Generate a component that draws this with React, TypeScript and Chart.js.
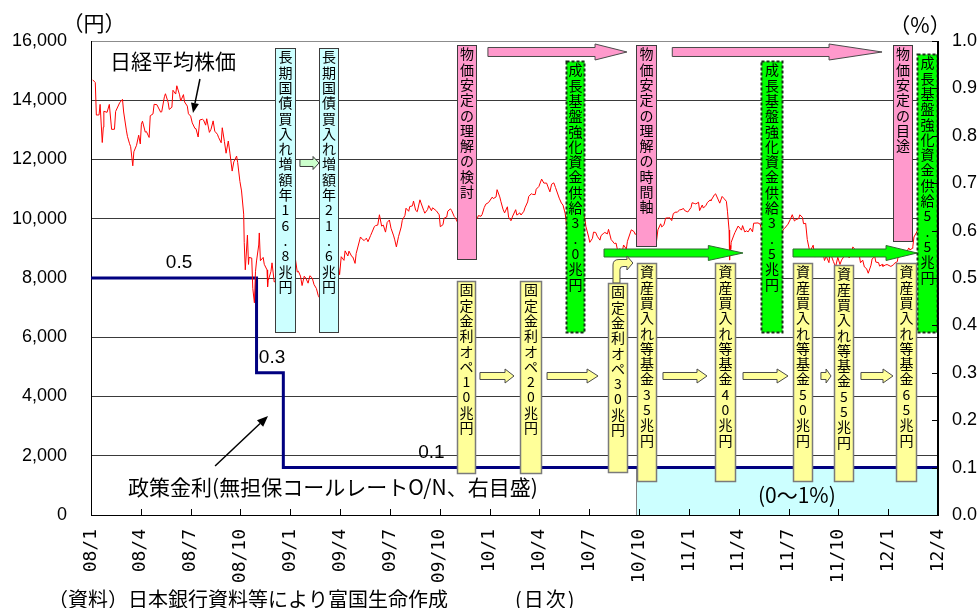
import React, { useEffect, useRef } from 'react';
import { Chart, registerables } from 'chart.js';

Chart.register(...registerables);

// Quarter tick labels along the date axis (x = months since 2008/1)
const xTickLabels = [
  '08/1', '08/4', '08/7', '08/10', '09/1', '09/4', '09/7', '09/10', '10/1',
  '10/4', '10/7', '10/10', '11/1', '11/4', '11/7', '11/10', '12/1', '12/4',
];

// Nikkei 225 closes (yen)
const nikkeiDates = [
  '2008-01-04', '2008-01-09', '2008-01-11', '2008-01-16', '2008-01-18', '2008-01-22', '2008-01-24', '2008-01-25', '2008-01-31',
  '2008-02-04', '2008-02-08', '2008-02-13', '2008-02-15', '2008-02-22', '2008-02-27', '2008-02-29',
  '2008-03-05', '2008-03-07', '2008-03-11', '2008-03-13', '2008-03-17', '2008-03-19', '2008-03-24', '2008-03-28', '2008-03-31',
  '2008-04-02', '2008-04-04', '2008-04-09', '2008-04-11', '2008-04-16', '2008-04-18', '2008-04-23', '2008-04-25', '2008-04-30',
  '2008-05-07', '2008-05-09', '2008-05-14', '2008-05-16', '2008-05-21', '2008-05-23', '2008-05-28', '2008-05-30',
  '2008-06-04', '2008-06-06', '2008-06-11', '2008-06-13', '2008-06-18', '2008-06-20', '2008-06-25', '2008-06-27',
  '2008-07-01', '2008-07-04', '2008-07-09', '2008-07-11', '2008-07-15', '2008-07-18', '2008-07-23', '2008-07-25', '2008-07-29', '2008-07-31',
  '2008-08-05', '2008-08-08', '2008-08-12', '2008-08-15', '2008-08-20', '2008-08-22', '2008-08-27', '2008-08-29',
  '2008-09-02', '2008-09-05', '2008-09-09', '2008-09-12', '2008-09-16', '2008-09-19', '2008-09-24', '2008-09-26', '2008-09-30',
  '2008-10-03', '2008-10-07', '2008-10-08', '2008-10-10', '2008-10-14', '2008-10-16', '2008-10-17', '2008-10-22', '2008-10-24', '2008-10-27', '2008-10-29', '2008-10-31',
  '2008-11-04', '2008-11-05', '2008-11-07', '2008-11-12', '2008-11-14', '2008-11-19', '2008-11-20', '2008-11-21', '2008-11-26', '2008-11-28',
  '2008-12-02', '2008-12-05', '2008-12-09', '2008-12-12', '2008-12-16', '2008-12-19', '2008-12-24', '2008-12-26', '2008-12-30',
  '2009-01-06', '2009-01-09', '2009-01-14', '2009-01-16', '2009-01-20', '2009-01-23', '2009-01-27', '2009-01-30',
  '2009-02-03', '2009-02-06', '2009-02-10', '2009-02-13', '2009-02-17', '2009-02-20', '2009-02-24', '2009-02-27',
  '2009-03-03', '2009-03-06', '2009-03-10', '2009-03-13', '2009-03-17', '2009-03-19', '2009-03-24', '2009-03-27', '2009-03-31',
  '2009-04-03', '2009-04-08', '2009-04-10', '2009-04-15', '2009-04-17', '2009-04-22', '2009-04-24', '2009-04-28', '2009-04-30',
  '2009-05-08', '2009-05-12', '2009-05-15', '2009-05-19', '2009-05-22', '2009-05-27', '2009-05-29',
  '2009-06-03', '2009-06-05', '2009-06-09', '2009-06-12', '2009-06-16', '2009-06-19', '2009-06-23', '2009-06-26', '2009-06-30',
  '2009-07-03', '2009-07-08', '2009-07-10', '2009-07-13', '2009-07-17', '2009-07-22', '2009-07-24', '2009-07-29', '2009-07-31',
  '2009-08-05', '2009-08-07', '2009-08-12', '2009-08-14', '2009-08-18', '2009-08-21', '2009-08-26', '2009-08-28',
  '2009-09-02', '2009-09-04', '2009-09-09', '2009-09-11', '2009-09-16', '2009-09-18', '2009-09-25', '2009-09-30',
  '2009-10-02', '2009-10-07', '2009-10-09', '2009-10-14', '2009-10-16', '2009-10-21', '2009-10-23', '2009-10-28', '2009-10-30',
  '2009-11-04', '2009-11-06', '2009-11-11', '2009-11-13', '2009-11-18', '2009-11-20', '2009-11-25', '2009-11-27', '2009-11-30',
  '2009-12-04', '2009-12-09', '2009-12-11', '2009-12-16', '2009-12-18', '2009-12-22', '2009-12-25', '2009-12-30',
  '2010-01-06', '2010-01-08', '2010-01-13', '2010-01-15', '2010-01-20', '2010-01-22', '2010-01-26', '2010-01-29',
  '2010-02-03', '2010-02-05', '2010-02-09', '2010-02-12', '2010-02-17', '2010-02-19', '2010-02-24', '2010-02-26',
  '2010-03-03', '2010-03-05', '2010-03-10', '2010-03-12', '2010-03-17', '2010-03-19', '2010-03-24', '2010-03-26', '2010-03-31',
  '2010-04-05', '2010-04-09', '2010-04-14', '2010-04-16', '2010-04-20', '2010-04-23', '2010-04-27', '2010-04-30',
  '2010-05-07', '2010-05-11', '2010-05-14', '2010-05-18', '2010-05-21', '2010-05-25', '2010-05-28',
  '2010-06-02', '2010-06-04', '2010-06-08', '2010-06-11', '2010-06-15', '2010-06-18', '2010-06-22', '2010-06-25', '2010-06-30',
  '2010-07-02', '2010-07-07', '2010-07-09', '2010-07-13', '2010-07-16', '2010-07-21', '2010-07-23', '2010-07-27', '2010-07-30',
  '2010-08-04', '2010-08-06', '2010-08-11', '2010-08-13', '2010-08-17', '2010-08-20', '2010-08-24', '2010-08-27', '2010-08-31',
  '2010-09-03', '2010-09-08', '2010-09-10', '2010-09-15', '2010-09-17', '2010-09-22', '2010-09-24', '2010-09-29', '2010-09-30',
  '2010-10-05', '2010-10-08', '2010-10-13', '2010-10-15', '2010-10-20', '2010-10-22', '2010-10-27', '2010-10-29',
  '2010-11-02', '2010-11-05', '2010-11-10', '2010-11-12', '2010-11-16', '2010-11-19', '2010-11-24', '2010-11-26', '2010-11-30',
  '2010-12-03', '2010-12-08', '2010-12-10', '2010-12-15', '2010-12-17', '2010-12-22', '2010-12-24', '2010-12-30',
  '2011-01-05', '2011-01-07', '2011-01-12', '2011-01-14', '2011-01-19', '2011-01-21', '2011-01-26', '2011-01-28',
  '2011-02-02', '2011-02-04', '2011-02-09', '2011-02-10', '2011-02-16', '2011-02-18', '2011-02-22', '2011-02-25',
  '2011-03-01', '2011-03-04', '2011-03-09', '2011-03-11', '2011-03-14', '2011-03-15', '2011-03-16', '2011-03-17', '2011-03-18', '2011-03-23', '2011-03-25', '2011-03-31',
  '2011-04-06', '2011-04-08', '2011-04-12', '2011-04-15', '2011-04-18', '2011-04-22', '2011-04-26', '2011-04-28',
  '2011-05-06', '2011-05-10', '2011-05-13', '2011-05-17', '2011-05-20', '2011-05-25', '2011-05-27', '2011-05-31',
  '2011-06-03', '2011-06-08', '2011-06-10', '2011-06-15', '2011-06-17', '2011-06-21', '2011-06-24', '2011-06-30',
  '2011-07-04', '2011-07-08', '2011-07-12', '2011-07-15', '2011-07-20', '2011-07-22', '2011-07-27', '2011-07-29',
  '2011-08-02', '2011-08-05', '2011-08-09', '2011-08-12', '2011-08-16', '2011-08-19', '2011-08-23', '2011-08-26', '2011-08-31',
  '2011-09-02', '2011-09-06', '2011-09-09', '2011-09-14', '2011-09-16', '2011-09-22', '2011-09-26', '2011-09-30',
  '2011-10-04', '2011-10-07', '2011-10-12', '2011-10-14', '2011-10-19', '2011-10-21', '2011-10-25', '2011-10-28', '2011-10-31',
  '2011-11-04', '2011-11-09', '2011-11-11', '2011-11-15', '2011-11-18', '2011-11-22', '2011-11-25', '2011-11-30',
  '2011-12-02', '2011-12-07', '2011-12-09', '2011-12-14', '2011-12-16', '2011-12-21', '2011-12-22', '2011-12-27', '2011-12-30',
  '2012-01-06', '2012-01-11', '2012-01-13', '2012-01-18', '2012-01-20', '2012-01-25', '2012-01-27', '2012-01-31',
  '2012-02-03', '2012-02-08', '2012-02-10', '2012-02-14', '2012-02-15', '2012-02-17', '2012-02-22', '2012-02-24', '2012-02-29',
  '2012-03-02', '2012-03-07', '2012-03-09', '2012-03-14', '2012-03-16', '2012-03-21', '2012-03-23', '2012-03-27', '2012-03-30',
];

const nikkeiCloses = [
  14691, 14599, 13500, 13505, 13861, 12573, 13092, 13629, 13592,
  13860, 13017, 13021, 13622, 13914, 14031, 13603,
  12992, 12782, 12532, 12433, 11787, 12260, 12481, 12820, 12525,
  13190, 13293, 12924, 12945, 12744, 13476, 13540, 13863, 13850,
  13598, 13610, 14118, 14219, 13926, 13690, 13764, 14338,
  14209, 14489, 14183, 13974, 14190, 13943, 13802, 13544,
  13463, 13237, 13048, 13039, 12760, 13334, 13358, 13334, 13159, 13376,
  12915, 13020, 13304, 12956, 12851, 12752, 12565, 13072,
  12609, 12212, 12624, 12214, 11609, 11920, 12115, 11893, 11259,
  10938, 10155, 9203, 8276, 9447, 8458, 8693, 8674, 7649, 7162, 8211, 8576,
  9114, 9521, 8583, 8695, 8462, 8273, 7703, 7910, 8213, 8512,
  7863, 7917, 8660, 8235, 8612, 8588, 8517, 8740, 8860,
  9080, 8836, 8200, 8230, 8065, 7745, 8061, 7994,
  7825, 8076, 8000, 7780, 7645, 7416, 7268, 7568,
  7280, 7173, 7055, 7569, 7949, 7945, 8488, 8627, 8110,
  8719, 8595, 8916, 8743, 8907, 8727, 8707, 8493, 8828,
  9385, 9298, 9265, 9344, 9225, 9438, 9523,
  9741, 9768, 9786, 10135, 9752, 9786, 9549, 9877, 9958,
  9680, 9420, 9287, 9050, 9395, 9723, 9944, 10113, 10356,
  10252, 10412, 10435, 10597, 10284, 10238, 10639, 10534,
  10280, 10187, 10312, 10444, 10270, 10370, 10265, 10133,
  9731, 9800, 10016, 10060, 10258, 10333, 10282, 10075, 10035,
  9844, 9789, 9871, 9770, 9676, 9497, 9441, 9081, 9345,
  9977, 10004, 10107, 10084, 10142, 10378, 10494, 10546,
  10731, 10681, 10735, 10982, 10737, 10590, 10325, 10198,
  10404, 10057, 9932, 10092, 10306, 10123, 10198, 10126,
  10253, 10368, 10567, 10751, 10846, 10824, 10815, 10996, 11089,
  11339, 11204, 11204, 11102, 10908, 11165, 11212, 11057,
  10695, 10530, 10462, 10186, 9784, 9459, 9762,
  9603, 9901, 9538, 9705, 9879, 10238, 10113, 9737, 9383,
  9203, 9338, 9548, 9537, 9408, 9278, 9431, 9496, 9537,
  9489, 9642, 9292, 9253, 9161, 9179, 8845, 8991, 8824,
  9114, 8976, 9239, 9516, 9626, 9566, 9471, 9559, 9369,
  9518, 9588, 9388, 9500, 9381, 9426, 9387, 9202,
  9159, 9625, 9830, 9724, 9797, 10022, 10030, 10039, 9937,
  10178, 10232, 10211, 10309, 10303, 10346, 10279, 10228,
  10380, 10541, 10512, 10499, 10557, 10274, 10464, 10360,
  10457, 10543, 10636, 10605, 10808, 10842, 10665, 10526,
  10754, 10693, 10589, 10254, 9620, 8605, 9093, 8962, 9206, 9449, 9536, 9755,
  9615, 9768, 9555, 9591, 9556, 9682, 9558, 9849,
  9859, 9818, 9648, 9567, 9607, 9422, 9504, 9694,
  9492, 9449, 9514, 9574, 9351, 9629, 9678, 9816,
  9965, 10137, 9925, 9974, 10005, 10132, 10047, 9833,
  9844, 9299, 8944, 8963, 9107, 8719, 8733, 8797, 8955,
  8950, 8590, 8737, 8518, 8864, 8560, 8374, 8700,
  8456, 8606, 8738, 8747, 8772, 8679, 8762, 9050, 8988,
  8801, 8755, 8514, 8603, 8374, 8314, 8160, 8434,
  8643, 8722, 8536, 8519, 8401, 8459, 8395, 8440, 8455,
  8390, 8448, 8500, 8550, 8766, 8883, 8841, 8802,
  8831, 9015, 8947, 8999, 9052, 9384, 9554, 9647, 9723,
  9777, 9576, 9929, 10050, 10129, 10141, 10011, 10255, 10083,
];

// Uncollateralized overnight call rate target (%), with the dates it took effect
const policyRateDates = ['2008-01-01', '2008-10-31', '2008-12-19'];
const policyRates = [0.5, 0.3, 0.1];
const axisEndDate = '2012-04-01';

// Months elapsed since 2008/1/1 for a YYYY-MM-DD date
function monthsSince(date: string): number {
  const [y, m, d] = date.split('-').map(Number);
  const daysInMonth = new Date(y, m, 0).getDate();
  return (y - 2008) * 12 + (m - 1) + (d - 1) / daysInMonth;
}

const FONT_JP = "'Noto Sans CJK JP', 'Noto Sans', sans-serif";
const FONT_NUM = "'Liberation Sans', Arial, sans-serif";
const FONT_MONO = "'DejaVu Sans Mono', 'Liberation Mono', monospace";

type BoxKind = 'jgb' | 'cpi' | 'growth' | 'ops';

const boxStyles: Record<BoxKind, { fill: string; stroke: string; dash: number[]; width: number }> = {
  jgb: { fill: '#CCFFFF', stroke: '#3c3c3c', dash: [], width: 1 },
  cpi: { fill: '#FF99CC', stroke: '#3c3c3c', dash: [], width: 1 },
  growth: { fill: '#00FF00', stroke: '#1c2e1c', dash: [3, 2], width: 2 },
  ops: { fill: '#FFFF99', stroke: '#7a7a7a', dash: [], width: 1.5 },
};

// Vertical caption boxes: horizontal span in months, vertical span in yen
const captionBoxes: { text: string; from: number; to: number; top: number; bottom: number; kind: BoxKind }[] = [
  { text: '長期国債買入れ増額年16.8兆円', from: 11.08, to: 12.34, top: 15760, bottom: 6140, kind: 'jgb' },
  { text: '長期国債買入れ増額年21.6兆円', from: 13.73, to: 14.93, top: 15760, bottom: 6140, kind: 'jgb' },
  { text: '物価安定の理解の検討', from: 22.04, to: 23.24, top: 15865, bottom: 8608, kind: 'cpi' },
  { text: '成長基盤強化資金供給3.0兆円', from: 28.6, to: 29.74, top: 15325, bottom: 6140, kind: 'growth' },
  { text: '物価安定の理解の時間軸', from: 32.82, to: 34.08, top: 15865, bottom: 9046, kind: 'cpi' },
  { text: '成長基盤強化資金供給3.5兆円', from: 40.34, to: 41.67, top: 15325, bottom: 6140, kind: 'growth' },
  { text: '物価安定の目途', from: 48.29, to: 49.49, top: 15865, bottom: 9215, kind: 'cpi' },
  { text: '成長基盤強化資金供給5.5兆円', from: 49.74, to: 51.0, top: 15561, bottom: 6140, kind: 'growth' },
  { text: '固定金利オペ10兆円', from: 22.04, to: 23.18, top: 7899, bottom: 1384, kind: 'ops' },
  { text: '固定金利オペ20兆円', from: 25.83, to: 27.16, top: 7899, bottom: 1384, kind: 'ops' },
  { text: '固定金利オペ30兆円', from: 31.13, to: 32.33, top: 7831, bottom: 1418, kind: 'ops' },
  { text: '資産買入れ等基金35兆円', from: 32.88, to: 34.08, top: 8506, bottom: 1114, kind: 'ops' },
  { text: '資産買入れ等基金40兆円', from: 37.57, to: 38.84, top: 8506, bottom: 1114, kind: 'ops' },
  { text: '資産買入れ等基金50兆円', from: 42.27, to: 43.47, top: 8506, bottom: 1114, kind: 'ops' },
  { text: '資産買入れ等基金55兆円', from: 44.74, to: 45.94, top: 8439, bottom: 1114, kind: 'ops' },
  { text: '資産買入れ等基金65兆円', from: 48.47, to: 49.74, top: 8506, bottom: 1114, kind: 'ops' },
];

// Block arrows: tail, head base and tip in months; level in yen
const blockArrows: { from: number; headAt: number; to: number; level: number; body: number; head: number; fill: string; stroke: string }[] = [
  { from: 12.58, headAt: 13.37, to: 13.73, level: 11882, body: 3.5, head: 6.5, fill: '#CCFFCC', stroke: '#3c3c3c' },
  { from: 23.9, headAt: 30.35, to: 32.27, level: 15629, body: 4.5, head: 8, fill: '#FF99CC', stroke: '#4a4a4a' },
  { from: 35.0, headAt: 44.44, to: 47.63, level: 15629, body: 4.5, head: 8, fill: '#FF99CC', stroke: '#4a4a4a' },
  { from: 30.89, headAt: 37.17, to: 39.26, level: 8844, body: 4, head: 7.5, fill: '#00FF00', stroke: '#2f6b2f' },
  { from: 42.27, headAt: 47.87, to: 49.74, level: 8844, body: 4, head: 7.5, fill: '#00FF00', stroke: '#2f6b2f' },
  { from: 23.42, headAt: 24.93, to: 25.47, level: 4692, body: 3.5, head: 7, fill: '#FFFF99', stroke: '#4a4a4a' },
  { from: 27.46, headAt: 29.87, to: 30.53, level: 4692, body: 3.5, head: 7, fill: '#FFFF99', stroke: '#4a4a4a' },
  { from: 34.44, headAt: 36.49, to: 37.09, level: 4692, body: 3.5, head: 7, fill: '#FFFF99', stroke: '#4a4a4a' },
  { from: 39.26, headAt: 41.31, to: 41.97, level: 4692, body: 3.5, head: 7, fill: '#FFFF99', stroke: '#4a4a4a' },
  { from: 43.95, headAt: 44.26, to: 44.56, level: 4692, body: 3.5, head: 7, fill: '#FFFF99', stroke: '#4a4a4a' },
  { from: 46.36, headAt: 47.69, to: 48.29, level: 4692, body: 3.5, head: 7, fill: '#FFFF99', stroke: '#4a4a4a' },
];

// Bent arrow rising from the 30兆円 fixed-rate box
const bentArrow = { stemFrom: 31.43, stemTo: 31.85, headAt: 32.27, tip: 32.63, level: 8506, base: 7831 };

// Target range band after comprehensive easing (right axis units)
const zeroBand = { from: 32.82, to: 51, low: 0, high: 0.1 };

// Placement of the rate value labels (months)
const rateLabelMonths = [5.3, 10.9, 20.5];

function formatThousands(v: number): string {
  return String(Math.round(v)).replace(/\B(?=(\d{3})+(?!\d))/g, ',');
}

function drawBlockArrow(ctx: CanvasRenderingContext2D, x0: number, xh: number, x1: number, yc: number, body: number, head: number, fill: string, stroke: string) {
  ctx.beginPath();
  ctx.moveTo(x0, yc - body);
  ctx.lineTo(xh, yc - body);
  ctx.lineTo(xh, yc - head);
  ctx.lineTo(x1, yc);
  ctx.lineTo(xh, yc + head);
  ctx.lineTo(xh, yc + body);
  ctx.lineTo(x0, yc + body);
  ctx.closePath();
  ctx.fillStyle = fill;
  ctx.fill();
  ctx.strokeStyle = stroke;
  ctx.lineWidth = 1;
  ctx.setLineDash([]);
  ctx.stroke();
}

function drawLineArrow(ctx: CanvasRenderingContext2D, x0: number, y0: number, x1: number, y1: number, headLen: number, headHalf: number, width: number) {
  const ang = Math.atan2(y1 - y0, x1 - x0);
  const bx = x1 - headLen * Math.cos(ang);
  const by = y1 - headLen * Math.sin(ang);
  ctx.strokeStyle = '#000';
  ctx.fillStyle = '#000';
  ctx.lineWidth = width;
  ctx.setLineDash([]);
  ctx.beginPath();
  ctx.moveTo(x0, y0);
  ctx.lineTo(bx, by);
  ctx.stroke();
  ctx.beginPath();
  ctx.moveTo(x1, y1);
  ctx.lineTo(bx + headHalf * Math.sin(ang), by - headHalf * Math.cos(ang));
  ctx.lineTo(bx - headHalf * Math.sin(ang), by + headHalf * Math.cos(ang));
  ctx.closePath();
  ctx.fill();
}

const overlayPlugin = {
  id: 'policyOverlay',
  beforeDatasetsDraw(chart: any) {
    const { ctx } = chart;
    const xs = chart.scales.x;
    const yr = chart.scales.yRate;
    const x0 = xs.getPixelForValue(zeroBand.from);
    const x1 = xs.getPixelForValue(zeroBand.to);
    const y0 = yr.getPixelForValue(zeroBand.high);
    const y1 = yr.getPixelForValue(zeroBand.low);
    ctx.save();
    ctx.fillStyle = '#CCFFFF';
    ctx.fillRect(x0, y0, x1 - x0, y1 - y0);
    ctx.strokeStyle = '#808080';
    ctx.lineWidth = 1;
    ctx.beginPath();
    ctx.moveTo(Math.round(x0) + 0.5, y1);
    ctx.lineTo(Math.round(x0) + 0.5, y0);
    ctx.stroke();
    ctx.restore();
  },
  afterDatasetsDraw(chart: any) {
    const { ctx, chartArea } = chart;
    const xs = chart.scales.x;
    const yy = chart.scales.yYen;
    const yr = chart.scales.yRate;
    const X = (m: number) => xs.getPixelForValue(m);
    const YY = (v: number) => yy.getPixelForValue(v);
    const YR = (v: number) => yr.getPixelForValue(v);
    ctx.save();

    // block arrows
    blockArrows.forEach((a) => {
      drawBlockArrow(ctx, X(a.from), X(a.headAt), X(a.to), YY(a.level), a.body, a.head, a.fill, a.stroke);
    });

    // bent arrow
    {
      const xL = X(bentArrow.stemFrom);
      const xR = X(bentArrow.stemTo);
      const xh = X(bentArrow.headAt);
      const xt = X(bentArrow.tip);
      const yc = YY(bentArrow.level);
      const yb = YY(bentArrow.base);
      const b = 3.5;
      const h = 7;
      ctx.beginPath();
      ctx.moveTo(xL, yb);
      ctx.lineTo(xL, yc + 2);
      ctx.quadraticCurveTo(xL, yc - b, xL + 6, yc - b);
      ctx.lineTo(xh, yc - b);
      ctx.lineTo(xh, yc - h);
      ctx.lineTo(xt, yc);
      ctx.lineTo(xh, yc + h);
      ctx.lineTo(xh, yc + b);
      ctx.lineTo(xR + 3, yc + b);
      ctx.quadraticCurveTo(xR, yc + b, xR, yc + b + 3);
      ctx.lineTo(xR, yb);
      ctx.closePath();
      ctx.fillStyle = '#FFFF99';
      ctx.fill();
      ctx.strokeStyle = '#4a4a4a';
      ctx.lineWidth = 1;
      ctx.stroke();
    }

    // caption boxes with vertical text
    captionBoxes.forEach((b) => {
      const st = boxStyles[b.kind];
      const x0 = Math.round(X(b.from)) + 0.5;
      const x1 = Math.round(X(b.to)) - 0.5;
      const y0 = Math.round(YY(b.top)) + 0.5;
      const y1 = Math.round(YY(b.bottom)) - 0.5;
      ctx.fillStyle = st.fill;
      ctx.fillRect(x0, y0, x1 - x0, y1 - y0);
      ctx.setLineDash(st.dash);
      ctx.lineWidth = st.width;
      ctx.strokeStyle = st.stroke;
      ctx.strokeRect(x0, y0, x1 - x0, y1 - y0);
      ctx.setLineDash([]);
      ctx.fillStyle = '#000';
      ctx.font = `14px ${FONT_JP}`;
      ctx.textAlign = 'center';
      ctx.textBaseline = 'middle';
      const cx = (x0 + x1) / 2;
      Array.from(b.text).forEach((ch, i) => {
        ctx.fillText(ch, cx, y0 + 8.5 + i * 15.3);
      });
    });

    // band caption
    ctx.fillStyle = '#000';
    ctx.font = `21px ${FONT_JP}`;
    ctx.textAlign = 'center';
    ctx.textBaseline = 'middle';
    ctx.fillText('(0～1%)', X(42.5), YR(0.042));

    // Nikkei caption and pointer
    ctx.textAlign = 'left';
    ctx.font = `21px ${FONT_JP}`;
    ctx.fillText('日経平均株価', X(1.14), YY(15325));
    drawLineArrow(ctx, X(6.56), YY(14717), X(6.14), YY(13570), 10, 4, 1.5);

    // policy-rate caption and pointer
    ctx.fillStyle = '#000';
    ctx.font = `21px ${FONT_JP}`;
    ctx.textAlign = 'left';
    ctx.textBaseline = 'middle';
    ctx.fillText('政策金利(無担保コールレートO/N、右目盛)', X(2.23), YR(0.059));
    drawLineArrow(ctx, X(7.47), YR(0.1034), X(10.66), YR(0.209), 11, 4.5, 1.5);

    // rate value labels just above each level
    ctx.fillStyle = '#000';
    ctx.font = `19px ${FONT_NUM}`;
    ctx.textAlign = 'center';
    ctx.textBaseline = 'middle';
    policyRates.forEach((r, i) => {
      ctx.fillText(r.toFixed(1), X(rateLabelMonths[i]), YR(r) - 15);
    });

    // axis frame lines and inward tick marks
    ctx.strokeStyle = '#000';
    ctx.lineWidth = 1;
    ctx.beginPath();
    ctx.moveTo(chartArea.left, Math.round(chartArea.bottom) + 0.5);
    ctx.lineTo(chartArea.right, Math.round(chartArea.bottom) + 0.5);
    ctx.moveTo(Math.round(chartArea.right) - 0.5, chartArea.top);
    ctx.lineTo(Math.round(chartArea.right) - 0.5, chartArea.bottom);
    xTickLabels.forEach((_, i) => {
      const px = Math.round(X(i * 3)) + 0.5;
      ctx.moveTo(px, chartArea.bottom);
      ctx.lineTo(px, chartArea.bottom - 6);
    });
    for (let k = 0; k <= 10; k++) {
      const py = Math.round(YR(k / 10)) + 0.5;
      ctx.moveTo(chartArea.right, py);
      ctx.lineTo(chartArea.right - 6, py);
    }
    ctx.stroke();
    ctx.restore();
  },
  afterDraw(chart: any) {
    const { ctx, chartArea } = chart;
    ctx.save();
    ctx.fillStyle = '#000';
    ctx.textBaseline = 'middle';
    ctx.font = `21px ${FONT_JP}`;
    ctx.textAlign = 'center';
    ctx.fillText('（円）', chartArea.left + 3, chartArea.top - 18);
    ctx.fillText('（%）', chartArea.right - 18, chartArea.top - 16);
    ctx.textAlign = 'left';
    ctx.font = `20px ${FONT_JP}`;
    ctx.fillText('（資料）日本銀行資料等により富国生命作成', 48, chart.height - 9);
    (ctx as any).letterSpacing = '2px';
    ctx.fillText('(日次)', 515, chart.height - 9);
    (ctx as any).letterSpacing = '0px';
    ctx.restore();
  },
};

export default function App() {
  const canvasRef = useRef<HTMLCanvasElement | null>(null);

  useEffect(() => {
    const canvas = canvasRef.current;
    if (!canvas) return;

    const nikkeiPoints = nikkeiDates.map((d, i) => ({ x: monthsSince(d), y: nikkeiCloses[i] }));

    const ratePoints: { x: number; y: number }[] = [];
    policyRateDates.forEach((d, i) => {
      const x = monthsSince(d);
      if (i > 0) ratePoints.push({ x, y: policyRates[i - 1] });
      ratePoints.push({ x, y: policyRates[i] });
    });
    ratePoints.push({ x: monthsSince(axisEndDate), y: policyRates[policyRates.length - 1] });

    const chart = new Chart(canvas, {
      type: 'line',
      data: {
        datasets: [
          {
            label: '日経平均株価',
            data: nikkeiPoints,
            yAxisID: 'yYen',
            borderColor: '#FF0000',
            borderWidth: 1,
            pointRadius: 0,
            tension: 0,
            order: 0,
          },
          {
            label: '政策金利',
            data: ratePoints,
            yAxisID: 'yRate',
            borderColor: '#000080',
            borderWidth: 3,
            borderJoinStyle: 'miter',
            borderCapStyle: 'butt',
            pointRadius: 0,
            tension: 0,
            order: 1,
          },
        ],
      },
      options: {
        animation: false,
        responsive: false,
        devicePixelRatio: 1,
        layout: { padding: { top: 41, left: 0, right: 0, bottom: 0 } },
        plugins: { legend: { display: false }, tooltip: { enabled: false } },
        scales: {
          x: {
            type: 'linear',
            min: 0,
            max: monthsSince(axisEndDate),
            afterFit: (s: any) => {
              s.height = 93;
            },
            afterBuildTicks: (s: any) => {
              s.ticks = xTickLabels.map((_, i) => ({ value: i * 3 }));
            },
            ticks: {
              autoSkip: false,
              minRotation: 90,
              maxRotation: 90,
              padding: 14,
              color: '#000',
              font: { family: FONT_MONO, size: 18 },
              callback: (v: any) => xTickLabels[Math.round(Number(v) / 3)] ?? '',
            },
            grid: { display: true, drawOnChartArea: false, drawTicks: false },
            border: { display: true, color: '#000', width: 1 },
          },
          yYen: {
            type: 'linear',
            position: 'left',
            min: 0,
            max: 16000,
            afterFit: (s: any) => {
              s.width = 91;
            },
            ticks: {
              stepSize: 2000,
              padding: 24,
              color: '#000',
              font: { family: FONT_NUM, size: 18 },
              callback: (v: any) => formatThousands(Number(v)),
            },
            grid: {
              color: (c: any) => (c.tick && c.tick.value === 16000 ? '#8c8c8c' : '#3a3a3a'),
              lineWidth: 1,
              drawTicks: false,
            },
            border: { display: true, color: '#000', width: 1 },
          },
          yRate: {
            type: 'linear',
            position: 'right',
            min: 0,
            max: 1,
            afterFit: (s: any) => {
              s.width = 41;
            },
            ticks: {
              stepSize: 0.1,
              padding: 14,
              color: '#000',
              font: { family: FONT_NUM, size: 18 },
              callback: (v: any) => Number(v).toFixed(1),
            },
            grid: { display: true, drawOnChartArea: false, drawTicks: false },
            border: { display: true, color: '#000', width: 1 },
          },
        },
      } as any,
      plugins: [overlayPlugin],
    });

    return () => {
      chart.destroy();
    };
  }, []);

  return (
    <div style={{ position: 'absolute', left: 0, top: 0, width: 979, height: 608, background: '#fff' }}>
      <canvas ref={canvasRef} width={979} height={608} style={{ display: 'block' }} />
    </div>
  );
}
